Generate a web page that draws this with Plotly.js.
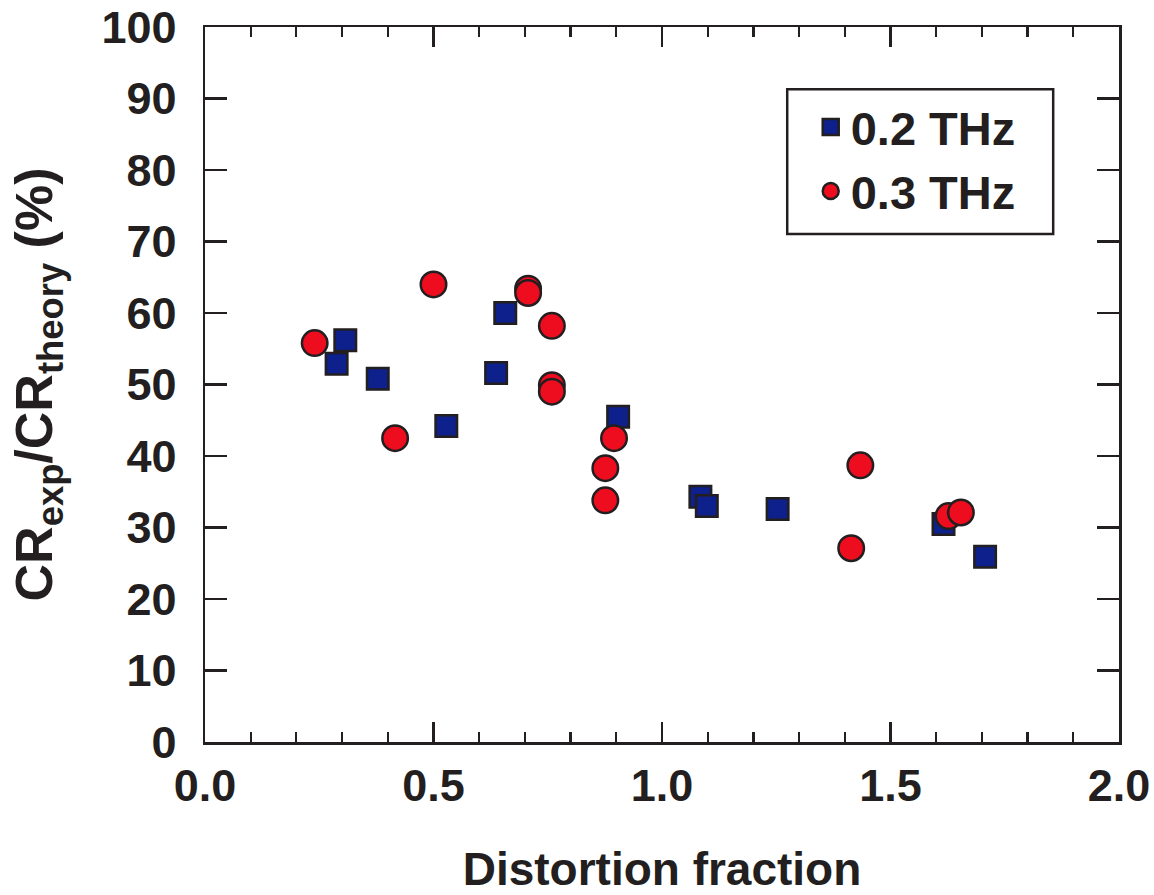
<!DOCTYPE html>
<html>
<head>
<meta charset="utf-8">
<script src="https://cdn.plot.ly/plotly-3.0.1.min.js"></script>
<style>html,body{margin:0;padding:0;background:#fff;}#chart{width:1154px;height:895px;}</style>
</head>
<body>
<div id="chart"></div>
<script>
// 0.2 THz series
const x02 = [0.307, 0.288, 0.378, 0.528, 0.637, 0.657, 0.904, 1.084, 1.098, 1.253, 1.616, 1.707];
const y02 = [56.2, 52.9, 50.8, 44.2, 51.6, 60.0, 45.5, 34.3, 33.0, 32.6, 30.5, 25.9];
// 0.3 THz series
const x03 = [0.240, 0.416, 0.500, 0.707, 0.707, 0.759, 0.759, 0.759, 0.876, 0.876, 0.895, 1.414, 1.434, 1.627, 1.654];
const y03 = [55.8, 42.5, 64.0, 63.4, 62.8, 58.2, 49.9, 49.0, 38.3, 33.8, 42.5, 27.1, 38.7, 31.6, 32.1];
const seriesNames = ['0.2 THz', '0.3 THz'];
const xTitle = 'Distortion fraction';
const yTitle = 'CR<sub>exp</sub>/CR<sub>theory</sub> (%)';

const ink = '#231f20';
const font = 'Liberation Sans, Arial, Helvetica, sans-serif';

const traces = [
  {x: x02, y: y02, name: seriesNames[0], type: 'scatter', mode: 'markers',
   marker: {symbol: 'square', size: 21.5, color: '#0e208b', line: {color: ink, width: 2.5}}},
  {x: x03, y: y03, name: seriesNames[1], type: 'scatter', mode: 'markers',
   marker: {symbol: 'circle', size: 25.5, color: '#ee0c1f', line: {color: ink, width: 2.5}}}
];

const axisCommon = {
  showline: true, linecolor: ink, linewidth: 2.5, mirror: 'ticks',
  ticks: 'inside', tickcolor: ink, tickwidth: 2.5,
  showgrid: false, zeroline: false,
  tickfont: {family: font, size: 45, color: ink, weight: 'bold'}
};

const layout = {
  width: 1154, height: 895,
  margin: {l: 205, r: 35, t: 27, b: 153},
  paper_bgcolor: '#fff', plot_bgcolor: '#fff',
  font: {family: font, color: ink},
  showlegend: true,
  legend: {
    x: 0.6627, y: 0.912, xanchor: 'left', yanchor: 'top',
    bgcolor: 'rgba(0,0,0,0)', borderwidth: 0,
    font: {family: font, size: 47, color: ink, weight: 'bold'},
    itemwidth: 30
  },
  shapes: [
    {type: 'rect', xref: 'paper', yref: 'paper', x0: 0.637, x1: 0.928, y0: 0.7105, y1: 0.913,
     line: {color: ink, width: 2.5}, fillcolor: 'rgba(0,0,0,0)', layer: 'below'}
  ],
  xaxis: Object.assign({}, axisCommon, {
    range: [0, 2], dtick: 0.5, tick0: 0, tickformat: '.1f', ticklen: 20,
    ticklabelstandoff: 2,
    minor: {dtick: 0.1, ticks: 'inside', ticklen: 10, tickwidth: 2.2, tickcolor: ink, showgrid: false},
    title: {text: xTitle, font: {family: font, size: 46, color: ink, weight: 'bold'}, standoff: 69}
  }),
  yaxis: Object.assign({}, axisCommon, {
    range: [0, 100], dtick: 10, tick0: 0, ticklen: 22,
    ticklabelstandoff: 17,
    title: {text: yTitle, font: {family: font, size: 52, color: ink, weight: 'bold'}, standoff: 32}
  })
};

Plotly.newPlot('chart', traces, layout, {displayModeBar: false, staticPlot: true});
</script>
</body>
</html>
